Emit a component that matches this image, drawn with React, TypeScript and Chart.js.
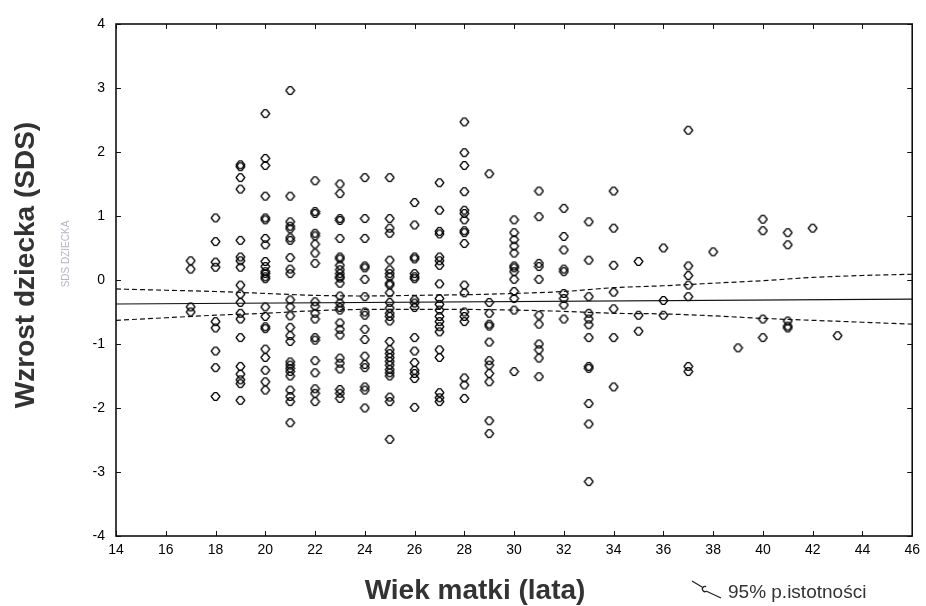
import React, { useEffect, useRef } from 'react';
import { Chart, registerables } from 'chart.js';

Chart.register(...registerables);

// Mother's age (x) and child's height SDS (y), one array per age column
const age17 = [0.30, 0.17, -0.42, -0.50];
const age18 = [0.97, 0.60, 0.28, 0.20, -0.65, -0.75, -1.11, -1.37, -1.82];
const age19 = [1.80, 1.77, 1.60, 1.42, 0.62, 0.36, 0.30, 0.20, -0.08, -0.22, -0.35, -0.52, -0.61, -0.90, -1.35, -1.47, -1.56, -1.62, -1.88];
const age20 = [2.60, 1.90, 1.79, 1.31, 0.97, 0.94, 0.65, 0.55, 0.29, 0.21, 0.13, 0.10, 0.05, 0.02, -0.42, -0.57, -0.73, -0.76, -1.08, -1.21, -1.41, -1.59, -1.72];
const age21 = [2.96, 1.31, 0.91, 0.84, 0.80, 0.66, 0.62, 0.35, 0.17, 0.10, -0.31, -0.42, -0.56, -0.74, -0.87, -0.96, -1.28, -1.33, -1.38, -1.43, -1.50, -1.72, -1.82, -1.90, -2.23];
const age22 = [1.55, 1.07, 1.04, 0.73, 0.69, 0.56, 0.42, 0.26, -0.34, -0.41, -0.52, -0.61, -0.90, -0.94, -1.26, -1.45, -1.70, -1.77, -1.90];
const age23 = [1.50, 1.35, 0.96, 0.93, 0.65, 0.36, 0.33, 0.23, 0.16, 0.10, 0.05, 0.03, -0.05, -0.25, -0.36, -0.43, -0.47, -0.67, -0.77, -0.86, -1.22, -1.30, -1.39, -1.71, -1.77, -1.85];
const age24 = [1.60, 0.96, 0.65, 0.22, 0.19, 0.01, -0.26, -0.50, -0.55, -0.77, -0.93, -1.19, -1.32, -1.37, -1.67, -1.72, -2.00];
const age25 = [1.60, 0.96, 0.81, 0.73, 0.31, 0.16, 0.10, 0.05, -0.05, -0.08, -0.20, -0.35, -0.44, -0.52, -0.57, -0.64, -0.96, -1.09, -1.15, -1.21, -1.27, -1.33, -1.40, -1.45, -1.50, -1.83, -1.90, -2.49];
const age26 = [1.21, 0.86, 0.36, 0.33, 0.10, 0.05, 0.02, -0.31, -0.36, -0.43, -0.90, -1.11, -1.29, -1.41, -1.46, -1.54, -1.99];
const age27 = [1.52, 1.09, 0.76, 0.72, 0.36, 0.30, 0.23, -0.06, -0.29, -0.38, -0.47, -0.57, -0.65, -0.73, -0.81, -1.09, -1.21, -1.76, -1.84, -1.90];
const age28 = [2.47, 1.99, 1.79, 1.38, 1.09, 1.04, 0.94, 0.77, 0.74, 0.57, -0.08, -0.20, -0.50, -0.57, -0.65, -1.53, -1.64, -1.85];
const age29 = [1.66, -0.35, -0.52, -0.69, -0.72, -0.97, -1.26, -1.33, -1.46, -1.59, -2.20, -2.40];
const age30 = [0.94, 0.74, 0.63, 0.53, 0.42, 0.22, 0.19, 0.13, 0.01, -0.18, -0.29, -0.47, -1.43];
const age31 = [1.39, 0.99, 0.26, 0.21, 0.01, -0.55, -0.69, -1.00, -1.09, -1.22, -1.51];
const age32 = [1.12, 0.68, 0.47, 0.17, 0.13, -0.21, -0.29, -0.39, -0.61];
const age33 = [0.91, 0.31, -0.26, -0.52, -0.61, -0.70, -0.90, -1.35, -1.38, -1.93, -2.25, -3.15];
const age34 = [1.39, 0.81, 0.23, -0.19, -0.45, -0.90, -1.67];
const age35 = [0.29, -0.55, -0.80];
const age36 = [0.50, -0.32, -0.55];
const age37 = [2.34, 0.22, 0.07, -0.08, -0.26, -1.35, -1.43];
const age38 = [0.44];
const age39 = [-1.06];
const age40 = [0.95, 0.77, -0.61, -0.90];
const age41 = [0.74, 0.55, -0.64, -0.72, -0.75];
const age42 = [0.81];
const age43 = [-0.87];

const ageColumns: [number, number[]][] = [
  [17, age17], [18, age18], [19, age19], [20, age20], [21, age21], [22, age22],
  [23, age23], [24, age24], [25, age25], [26, age26], [27, age27], [28, age28],
  [29, age29], [30, age30], [31, age31], [32, age32], [33, age33], [34, age34],
  [35, age35], [36, age36], [37, age37], [38, age38], [39, age39], [40, age40],
  [41, age41], [42, age42], [43, age43],
];

// Regression line and 95% confidence band
const regX = [14, 46];
const regY = [-0.375, -0.30];
const bandX = [14, 16, 18, 20, 22, 24, 26, 28, 30, 32, 34, 36, 38, 40, 42, 44, 46];
const bandUpper = [-0.14, -0.16, -0.18, -0.21, -0.24, -0.25, -0.24, -0.23, -0.21, -0.18, -0.12, -0.09, -0.05, -0.01, 0.04, 0.07, 0.09];
const bandLower = [-0.63, -0.59, -0.55, -0.52, -0.48, -0.46, -0.46, -0.46, -0.47, -0.49, -0.52, -0.53, -0.56, -0.60, -0.63, -0.66, -0.69];

const xTitle = 'Wiek matki (lata)';
const yTitle = 'Wzrost dziecka (SDS)';
const ghostLabel = 'SDS DZIECKA';
const legendLabel = '95% p.istotności';

const FONT = '"Liberation Sans", Arial, sans-serif';

function makeMarker(): HTMLCanvasElement {
  const c = document.createElement('canvas');
  c.width = 11;
  c.height = 11;
  const g = c.getContext('2d')!;
  g.strokeStyle = '#000';
  g.lineWidth = 1.35;
  g.lineJoin = 'round';
  g.beginPath();
  g.moveTo(1.2, 5.5);
  g.lineTo(4.2, 1.6);
  g.lineTo(6.8, 1.6);
  g.lineTo(9.8, 5.5);
  g.lineTo(6.8, 9.4);
  g.lineTo(4.2, 9.4);
  g.closePath();
  g.stroke();
  return c;
}

const framePlugin = {
  id: 'framePlugin',
  beforeDraw(chart: any) {
    const { ctx, width, height } = chart;
    ctx.save();
    ctx.fillStyle = '#ffffff';
    ctx.fillRect(0, 0, width, height);
    ctx.restore();
  },
  afterDraw(chart: any) {
    const { ctx, chartArea: a, scales } = chart;
    const xs = scales.x;
    const ys = scales.y;
    ctx.save();
    ctx.strokeStyle = '#111';
    ctx.lineWidth = 1.6;
    ctx.strokeRect(a.left, a.top, a.right - a.left, a.bottom - a.top);
    ctx.lineWidth = 1;
    ctx.beginPath();
    xs.ticks.forEach((t: any) => {
      const px = Math.round(xs.getPixelForValue(t.value)) + 0.5;
      ctx.moveTo(px, a.bottom);
      ctx.lineTo(px, a.bottom - 5);
      ctx.moveTo(px, a.top);
      ctx.lineTo(px, a.top + 5);
    });
    ys.ticks.forEach((t: any) => {
      const py = Math.round(ys.getPixelForValue(t.value)) + 0.5;
      ctx.moveTo(a.left, py);
      ctx.lineTo(a.left + 5, py);
      ctx.moveTo(a.right, py);
      ctx.lineTo(a.right - 5, py);
    });
    ctx.stroke();

    // axis titles
    ctx.fillStyle = '#333';
    ctx.font = `bold 28px ${FONT}`;
    ctx.textAlign = 'center';
    ctx.textBaseline = 'alphabetic';
    ctx.fillText(xTitle, 475, 599);

    ctx.save();
    ctx.translate(34, 265);
    ctx.rotate(-Math.PI / 2);
    ctx.fillText(yTitle, 0, 0);
    ctx.restore();

    // faint ghost label
    ctx.save();
    ctx.translate(69, 254);
    ctx.rotate(-Math.PI / 2);
    ctx.font = `10px ${FONT}`;
    ctx.fillStyle = '#b8b2c6';
    ctx.fillText(ghostLabel, 0, 0);
    ctx.restore();

    // legend
    ctx.strokeStyle = '#222';
    ctx.lineWidth = 1.3;
    ctx.beginPath();
    ctx.moveTo(692, 581);
    ctx.lineTo(702, 587);
    ctx.stroke();
    ctx.beginPath();
    ctx.arc(705, 589, 2.6, Math.PI * 0.35, Math.PI * 1.65);
    ctx.stroke();
    ctx.beginPath();
    ctx.moveTo(706, 591);
    ctx.lineTo(721, 598);
    ctx.stroke();
    ctx.fillStyle = '#333';
    ctx.font = `19px ${FONT}`;
    ctx.textAlign = 'left';
    ctx.fillText(legendLabel, 728, 598);
    ctx.restore();
  },
};

export default function App() {
  const ref = useRef<HTMLCanvasElement>(null);

  useEffect(() => {
    document.body.style.margin = '0';
    const canvas = ref.current;
    if (!canvas) return;

    const points: { x: number; y: number }[] = [];
    ageColumns.forEach(([age, vals]) => vals.forEach((v) => points.push({ x: age, y: v })));
    const marker = makeMarker();

    const chart = new Chart(canvas, {
      type: 'scatter',
      data: {
        datasets: [
          {
            type: 'line',
            data: regX.map((x, i) => ({ x, y: regY[i] })),
            borderColor: '#111',
            borderWidth: 1.2,
            pointRadius: 0,
            fill: false,
          } as any,
          {
            type: 'line',
            data: bandX.map((x, i) => ({ x, y: bandUpper[i] })),
            borderColor: '#111',
            borderWidth: 1.2,
            borderDash: [5, 3],
            pointRadius: 0,
            cubicInterpolationMode: 'monotone',
            fill: false,
          } as any,
          {
            type: 'line',
            data: bandX.map((x, i) => ({ x, y: bandLower[i] })),
            borderColor: '#111',
            borderWidth: 1.2,
            borderDash: [5, 3],
            pointRadius: 0,
            cubicInterpolationMode: 'monotone',
            fill: false,
          } as any,
          {
            data: points,
            pointStyle: marker,
            pointRadius: 5,
            borderColor: '#000',
            backgroundColor: 'rgba(0,0,0,0)',
          } as any,
        ],
      },
      options: {
        animation: false,
        responsive: false,
        maintainAspectRatio: false,
        layout: { padding: { top: 24, right: 12, left: 0, bottom: 0 } },
        plugins: { legend: { display: false }, tooltip: { enabled: false } },
        scales: {
          x: {
            type: 'linear',
            min: 14,
            max: 46,
            grid: { display: false, drawTicks: false },
            border: { display: false },
            ticks: { stepSize: 2, padding: 6, color: '#000', font: { family: FONT, size: 14 } },
            afterFit: (s: any) => { s.height = 70; },
          },
          y: {
            type: 'linear',
            min: -4,
            max: 4,
            grid: { display: false, drawTicks: false },
            border: { display: false },
            ticks: { stepSize: 1, padding: 11, color: '#000', font: { family: FONT, size: 14 } },
            afterFit: (s: any) => { s.width = 116; },
          },
        },
      },
      plugins: [framePlugin],
    });
    return () => chart.destroy();
  }, []);

  return (
    <div style={{ width: 926, height: 606, overflow: 'hidden', background: '#fff' }}>
      <canvas ref={ref} width={926} height={606} style={{ display: 'block' }} />
    </div>
  );
}
